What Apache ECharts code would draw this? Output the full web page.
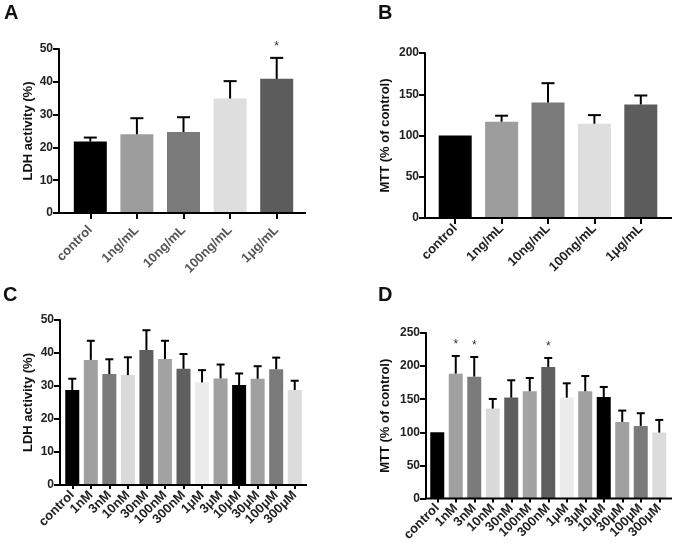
<!DOCTYPE html>
<html>
<head>
<meta charset="utf-8">
<script src="https://cdn.jsdelivr.net/npm/echarts@6/dist/echarts.min.js"></script>
<style>
html,body{margin:0;padding:0;background:#fff;}
#chart{width:675px;height:544px;}
</style>
</head>
<body>
<div id="chart"></div>
<script>
// ---------- DATA ----------
const categoriesAB = ['control', '1ng/mL', '10ng/mL', '100ng/mL', '1μg/mL'];
const ldhA = [21.8, 24.0, 24.7, 34.9, 40.9];
const ldhAErr = [1.2, 4.9, 4.5, 5.3, 6.4];
const sigA = [0, 0, 0, 0, 1];
const mttB = [100, 116.7, 140, 114.3, 137.6];
const mttBErr = [0, 7.3, 23.4, 10.4, 10.9];
const sigB = [0, 0, 0, 0, 0];

const categoriesCD = ['control', '1nM', '3nM', '10nM', '30nM', '100nM', '300nM', '1μM', '3μM', '10μM', '30μM', '100μM', '300μM'];
const ldhC = [28.8, 37.9, 33.6, 33.3, 40.9, 38.2, 35.2, 31.1, 32.3, 30.3, 32.2, 35.1, 28.8];
const ldhCErr = [3.4, 5.8, 4.5, 5.4, 6.0, 5.5, 4.5, 3.7, 4.2, 3.5, 3.8, 3.5, 2.8];
const sigC = [0, 0, 0, 0, 0, 0, 0, 0, 0, 0, 0, 0, 0];
const mttD = [100, 188.6, 184.1, 135.8, 152.4, 162.0, 198.7, 152.4, 162.0, 153.4, 115.7, 109.7, 99.6];
const mttDErr = [0, 26.7, 29.7, 14.6, 26.2, 20.0, 13.6, 21.6, 23.0, 15.1, 17.1, 19.1, 19.1];
const sigD = [0, 1, 1, 0, 0, 0, 1, 0, 0, 0, 0, 0, 0];

// ---------- STYLE ----------
const colorsAB = ['#000000', '#9d9d9d', '#7a7a7a', '#dedede', '#5c5c5c'];
const colorsCD = ['#000000', '#a0a0a0', '#7b7b7b', '#dadada', '#5e5e5e', '#a3a3a3', '#5f5f5f', '#ececec', '#a0a0a0', '#000000', '#a0a0a0', '#7a7a7a', '#dcdcdc'];
const FONT = '"Liberation Sans", Arial, Helvetica, sans-serif';

const panels = [
  {letter:'A', lx:4, ly:3, cats:categoriesAB, vals:ldhA, errs:ldhAErr, sig:sigA, colors:colorsAB,
   max:50, interval:10, yName:'LDH activity (%)', nameGap:24,
   grid:{left:67, top:49, width:233, height:164}, axisX:59, axisEnd:306, barWidth:33, cap:13,
   xLabelColor:'#555', tickLen:6, lblMargin:15, lblPad:7},
  {letter:'B', lx:378, ly:3, cats:categoriesAB, vals:mttB, errs:mttBErr, sig:sigB, colors:colorsAB,
   max:200, interval:50, yName:'MTT (% of control)', nameGap:33,
   grid:{left:432, top:53, width:232, height:165}, axisX:425, axisEnd:672, barWidth:33, cap:13,
   xLabelColor:'#222', tickLen:6, lblMargin:8.5, lblPad:24},
  {letter:'C', lx:3, ly:285, cats:categoriesCD, vals:ldhC, errs:ldhCErr, sig:sigC, colors:colorsCD,
   max:50, interval:10, yName:'LDH activity (%)', nameGap:25,
   grid:{left:63, top:320, width:241, height:165}, axisX:60, axisEnd:307, barWidth:14, cap:8,
   xLabelColor:'#222', tickLen:4, lblMargin:8, lblPad:8},
  {letter:'D', lx:378, ly:285, cats:categoriesCD, vals:mttD, errs:mttDErr, sig:sigD, colors:colorsCD,
   max:250, interval:50, yName:'MTT (% of control)', nameGap:34,
   grid:{left:428, top:333, width:240.5, height:165.5}, axisX:426, axisEnd:672, barWidth:14, cap:8,
   xLabelColor:'#222', tickLen:4, lblMargin:7.5, lblPad:11}
];

const option = {
  animation:false,
  backgroundColor:'#fff',
  textStyle:{fontFamily:FONT},
  title:[], grid:[], xAxis:[], yAxis:[], series:[], graphic:[]
};

panels.forEach((p, i) => {
  option.title.push({text:p.letter, left:p.lx, top:p.ly, padding:0,
    textStyle:{fontSize:20, fontWeight:'bold', color:'#111', fontFamily:FONT}});
  option.grid.push(Object.assign({containLabel:false}, p.grid));
  option.xAxis.push({
    type:'category', gridIndex:i, data:p.cats,
    axisLine:{show:false},
    axisTick:{show:true, alignWithLabel:true, length:p.tickLen, lineStyle:{color:'#000', width:2}},
    axisLabel:{rotate:45, interval:0, margin:p.lblMargin, padding:[p.lblPad, 0, 0, 0],
      fontSize:13, fontWeight:'bold', color:p.xLabelColor, fontFamily:FONT}
  });
  option.yAxis.push({
    type:'value', gridIndex:i, min:0, max:p.max, interval:p.interval,
    offset:p.grid.left - p.axisX,
    name:p.yName, nameLocation:'middle', nameGap:p.nameGap, nameRotate:90,
    nameTextStyle:{fontSize:13, fontWeight:'bold', color:'#111', fontFamily:FONT},
    axisLine:{show:true, lineStyle:{color:'#000', width:2}},
    axisTick:{show:true, length:6, lineStyle:{color:'#000', width:2}},
    axisLabel:{margin:6, fontSize:12, fontWeight:'bold', color:'#222', fontFamily:FONT},
    splitLine:{show:false}
  });
  option.series.push({
    type:'bar', xAxisIndex:i, yAxisIndex:i, barWidth:p.barWidth,
    data:p.vals.map((v, k) => ({value:v, itemStyle:{color:p.colors[k]}})),
    z:2
  });
  option.series.push({
    type:'custom', xAxisIndex:i, yAxisIndex:i, z:3,
    data:p.vals.map((v, k) => [k, v, p.errs[k]]),
    renderItem:(params, api) => {
      const x = api.value(0), y = api.value(1), e = api.value(2);
      if (!e) return null;
      const a = api.coord([x, y]), b = api.coord([x, y + e]);
      const hw = p.cap / 2;
      const st = {stroke:'#000', lineWidth:2};
      return {type:'group', children:[
        {type:'line', shape:{x1:a[0], y1:a[1], x2:b[0], y2:b[1]}, style:st},
        {type:'line', shape:{x1:b[0]-hw, y1:b[1], x2:b[0]+hw, y2:b[1]}, style:st}
      ]};
    }
  });
  option.series.push({
    type:'custom', xAxisIndex:i, yAxisIndex:i, z:3,
    data:p.vals.map((v, k) => [k, v + p.errs[k], p.sig[k]]),
    renderItem:(params, api) => {
      if (!api.value(2)) return null;
      const c = api.coord([api.value(0), api.value(1)]);
      return {type:'text', x:c[0], y:c[1] - 5,
        style:{text:'*', fill:'#333', fontSize:12, fontFamily:FONT, align:'center', verticalAlign:'bottom'}};
    }
  });
  // x-axis baseline spanning from the y-axis line to its end
  const yb = p.grid.top + p.grid.height;
  option.graphic.push({type:'line', z:10,
    shape:{x1:p.axisX, y1:yb, x2:p.axisEnd, y2:yb},
    style:{stroke:'#000', lineWidth:2}});
});

const chart = echarts.init(document.getElementById('chart'), null, {renderer:'canvas'});
chart.setOption(option);
</script>
</body>
</html>
